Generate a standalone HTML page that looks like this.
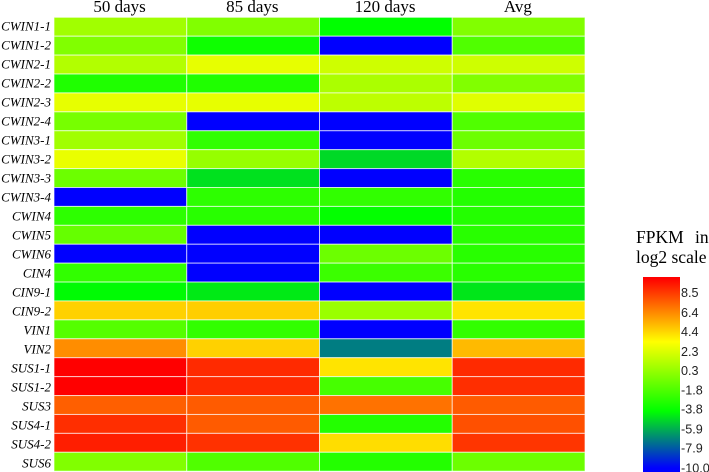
<!DOCTYPE html>
<html>
<head>
<meta charset="utf-8">
<title>FPKM heatmap</title>
<style>
html,body{margin:0;padding:0;background:#fff;}
svg{display:block;}
.h{font-family:"Liberation Serif",serif;font-size:17px;fill:#000;text-anchor:middle;}
.r{font-family:"Liberation Serif",serif;font-style:italic;font-size:13px;fill:#000;text-anchor:end;}
.t{font-family:"Liberation Serif",serif;font-size:17.5px;fill:#000;}
.k{font-family:"Liberation Sans",sans-serif;font-size:12.6px;fill:#222;}
</style>
</head>
<body>
<svg id="chart" xmlns="http://www.w3.org/2000/svg" width="709" height="472" viewBox="0 0 709 472">
<text class="t" y="243"><tspan x="636">FPKM</tspan><tspan x="695">in</tspan></text>
<text class="t" x="636" y="263">log2 scale</text>
</svg>
<script>
const columns = ['50 days', '85 days', '120 days', 'Avg'];
const genes = ['CWIN1-1','CWIN1-2','CWIN2-1','CWIN2-2','CWIN2-3','CWIN2-4','CWIN3-1','CWIN3-2','CWIN3-3','CWIN3-4','CWIN4','CWIN5','CWIN6','CIN4','CIN9-1','CIN9-2','VIN1','VIN2','SUS1-1','SUS1-2','SUS3','SUS4-1','SUS4-2','SUS6'];
const values50 = [0.6,-0.3,1.1,-3.1,2.6,-0.6,0.6,2.7,-0.9,-10,-2.7,-1.1,-10,-2.6,-4.1,4.5,-1.6,6.3,10,10,7.5,8.8,9.2,-0.3];
const values85 = [-0.3,-3.6,2.6,-3.1,2.6,-10,-2.6,0.3,-4.7,-2.7,-2.85,-10,-10,-10,-4.5,4.6,-2.6,4.5,8.9,8.9,7.6,7.6,8.7,-1.7];
const values120 = [-4,-10,1.9,0.9,1.4,-10,-10,-4.9,-10,-2.6,-3.9,-10,-0.9,-2.3,-10,0.4,-10,-7.05,4,-2,7,-3,4.2,-3];
const valuesAvg = [-0.3,-1.7,1.9,-0.3,2.4,-1.7,-0.9,1.1,-2.85,-3,-3,-2.85,-2.85,-2.85,-4.6,4,-2.6,5.1,8.9,8.8,7.6,7.9,8.6,-0.9];
const legendTicks = [8.5,6.4,4.4,2.3,0.3,-1.8,-3.8,-5.9,-7.9,-10.0];
const colorStopValues = [10,3.3,-4,-10];
const colorStopColors = [[255,0,0],[255,255,0],[0,255,0],[0,0,255]];

const NS = 'http://www.w3.org/2000/svg';
const svg = document.getElementById('chart');
const series = [values50, values85, values120, valuesAvg];

const GRID_LEFT = 54, GRID_RIGHT = 585, GRID_TOP = 17.3, GRID_BOTTOM = 471.2;
function xScale(i){ return GRID_LEFT + i * (GRID_RIGHT - GRID_LEFT) / columns.length; }
function yScale(i){ return GRID_TOP + i * (GRID_BOTTOM - GRID_TOP) / genes.length; }
function labelBaseline(i){ return 30.5 + i * 19; }

const LEGEND_LEFT = 643, LEGEND_RIGHT = 680, LEGEND_TOP = 277, LEGEND_BOTTOM = 472;
function legendY(v){ return 292.5 + (8.5 - v) * 9.49; }

function valueColor(v){
  const s = colorStopValues, c = colorStopColors;
  if (v >= s[0]) return 'rgb(' + c[0].join(',') + ')';
  for (let i = 0; i < s.length - 1; i++) {
    if (v >= s[i + 1]) {
      const t = (s[i] - v) / (s[i] - s[i + 1]);
      const mix = c[i].map((a, k) => Math.round(a + (c[i + 1][k] - a) * t));
      return 'rgb(' + mix.join(',') + ')';
    }
  }
  return 'rgb(' + c[c.length - 1].join(',') + ')';
}

function make(tag, attrs){
  const el = document.createElementNS(NS, tag);
  for (const k in attrs) el.setAttribute(k, attrs[k]);
  return el;
}

columns.forEach((name, c) => {
  const t = make('text', {class: 'h', x: (xScale(c) + xScale(c + 1)) / 2 - 0.8, y: 12});
  t.textContent = name;
  
  
  svg.appendChild(t);
});

genes.forEach((gene, r) => {
  const t = make('text', {class: 'r', x: 51, y: labelBaseline(r)});
  t.textContent = gene;
  
  
  svg.appendChild(t);
  series.forEach((vals, c) => {
    const cell = make('rect', {
      x: xScale(c), y: yScale(r),
      width: xScale(c + 1) - xScale(c),
      height: yScale(r + 1) - yScale(r),
      fill: valueColor(vals[r]),
      stroke: '#ffffff', 'stroke-opacity': 0.65, 'stroke-width': 1
    });
    
    
    svg.appendChild(cell);
  });
});

for (let y = LEGEND_TOP; y < LEGEND_BOTTOM; y++) {
  const v = 8.5 - (y + 0.5 - 292.5) / 9.49;
  const band = make('rect', {x: LEGEND_LEFT, y: y, width: LEGEND_RIGHT - LEGEND_LEFT, height: 1.2, fill: valueColor(v)});
  
  
  svg.appendChild(band);
}

legendTicks.forEach(v => {
  const t = make('text', {class: 'k', x: 681, y: legendY(v) + 4.5});
  t.textContent = v.toFixed(1);
  
  
  svg.appendChild(t);
});
</script>
</body>
</html>
